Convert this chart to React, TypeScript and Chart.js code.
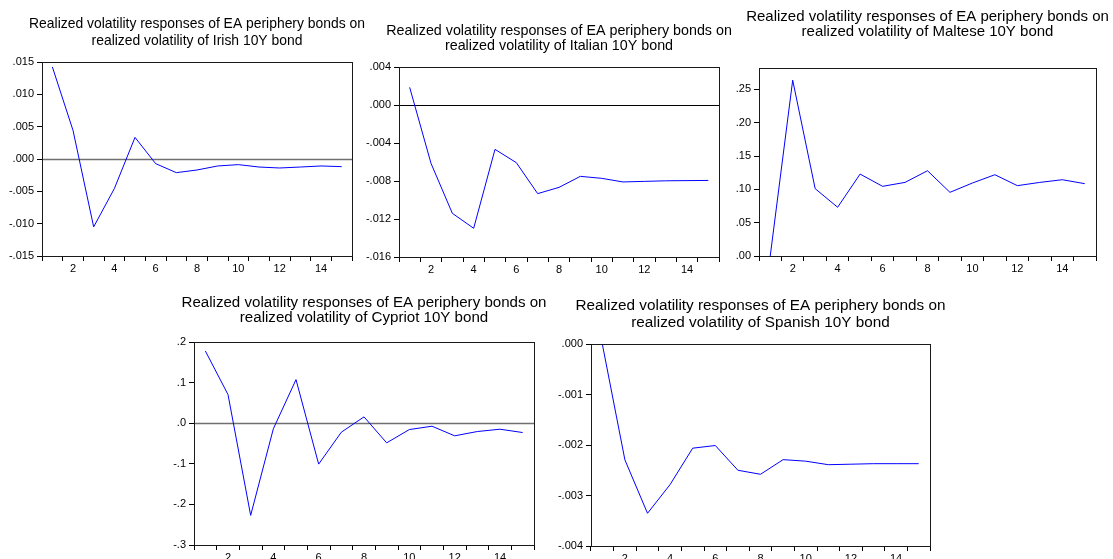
import { useEffect, useRef } from "react";
import { Chart, registerables } from "chart.js";

Chart.register(...registerables);

// Forecast horizon (periods after the shock)
const periods = ["1", "2", "3", "4", "5", "6", "7", "8", "9", "10", "11", "12", "13", "14", "15"];

// Impulse responses of realized volatility
const irishResponse = [0.01425, 0.00443, -0.0105, -0.00458, 0.00334, -0.00072, -0.00211, -0.0017, -0.00108, -0.00087, -0.00124, -0.00139, -0.00124, -0.00108, -0.00118];
const italianResponse = [0.00186, -0.00614, -0.0114, -0.01298, -0.00467, -0.00607, -0.00933, -0.00867, -0.00751, -0.00772, -0.0081, -0.00804, -0.00798, -0.00796, -0.00794];
const malteseResponse = [0.0, 0.2637, 0.101, 0.0731, 0.1229, 0.1045, 0.1104, 0.1279, 0.0955, 0.1095, 0.1219, 0.1055, 0.1104, 0.1144, 0.1085];
const cypriotResponse = [0.178, 0.0705, -0.227, -0.0139, 0.1074, -0.1008, -0.0221, 0.0156, -0.0484, -0.0156, -0.0074, -0.0311, -0.0205, -0.0148, -0.023];
const spanishResponse = [0.0, -0.002294, -0.003352, -0.002783, -0.002063, -0.00201, -0.0025, -0.00258, -0.00229, -0.00232, -0.00239, -0.00238, -0.00237, -0.00237, -0.00237];

// Value-axis ticks
const irishTicks = [-0.015, -0.01, -0.005, 0, 0.005, 0.01, 0.015];
const italianTicks = [-0.016, -0.012, -0.008, -0.004, 0, 0.004];
const malteseTicks = [0, 0.05, 0.1, 0.15, 0.2, 0.25];
const cypriotTicks = [-0.3, -0.2, -0.1, 0, 0.1, 0.2];
const spanishTicks = [-0.004, -0.003, -0.002, -0.001, 0];

const titleLead = "Realized volatility responses of EA periphery bonds on";
const irishTitle = [titleLead, "realized volatility of Irish 10Y bond"];
const italianTitle = [titleLead, "realized volatility of Italian 10Y bond"];
const malteseTitle = [titleLead, "realized volatility of Maltese 10Y bond"];
const cypriotTitle = [titleLead, "realized volatility of Cypriot 10Y bond"];
const spanishTitle = [titleLead, "realized volatility of Spanish 10Y bond"];

const FONT = "'Liberation Sans', Arial, Helvetica, sans-serif";
const AXIS_W = 42; // room for value labels left of the plot box
const AXIS_H = 24; // room for horizon labels under the plot box
const PAD_R = 26; // spare room on the right so the heading is not cut

type PanelSpec = {
  title: string[];
  values: number[];
  ticks: number[];
  min: number;
  max: number;
  decimals: number;
  plot: { left: number; top: number; right: number; bottom: number };
  titleY: number; // centre of the first title line
  titleSize: number;
  titleGap: number; // distance between title lines
  zeroColor: string;
  zeroWidth: number;
};

const panels: PanelSpec[] = [
  {
    title: irishTitle, values: irishResponse, ticks: irishTicks, min: -0.015, max: 0.015, decimals: 3,
    plot: { left: 42, top: 62, right: 352, bottom: 256 }, titleY: 24, titleSize: 13.9, titleGap: 17,
    zeroColor: "#707070", zeroWidth: 1.6,
  },
  {
    title: italianTitle, values: italianResponse, ticks: italianTicks, min: -0.016, max: 0.004, decimals: 3,
    plot: { left: 399, top: 67, right: 719, bottom: 257 }, titleY: 31.5, titleSize: 14.3, titleGap: 14.5,
    zeroColor: "#000000", zeroWidth: 1,
  },
  {
    title: malteseTitle, values: malteseResponse, ticks: malteseTicks, min: 0, max: 0.282, decimals: 2,
    plot: { left: 759, top: 68, right: 1096, bottom: 256 }, titleY: 16.5, titleSize: 15, titleGap: 15.6,
    zeroColor: "#707070", zeroWidth: 1.6,
  },
  {
    title: cypriotTitle, values: cypriotResponse, ticks: cypriotTicks, min: -0.3, max: 0.2, decimals: 1,
    plot: { left: 194, top: 342, right: 534, bottom: 545 }, titleY: 302.5, titleSize: 15.1, titleGap: 15.7,
    zeroColor: "#707070", zeroWidth: 1.6,
  },
  {
    title: spanishTitle, values: spanishResponse, ticks: spanishTicks, min: -0.004, max: 0, decimals: 3,
    plot: { left: 591, top: 344, right: 930, bottom: 546 }, titleY: 306, titleSize: 15.3, titleGap: 16.3,
    zeroColor: "#707070", zeroWidth: 1.6,
  },
];

// EViews-style value labels: ".015", "-.010", ".0"
function formatTick(v: number, decimals: number): string {
  const s = Math.abs(v).toFixed(decimals).replace(/^0/, "");
  return (v < -1e-12 ? "-" : "") + s;
}

// Two-line heading centred over the plot box (no width squeezing)
const headingPlugin = {
  id: "heading",
  afterDraw(chart: any, _args: any, opts: any) {
    const { ctx, chartArea: a } = chart;
    const cx = (a.left + a.right) / 2;
    ctx.save();
    ctx.fillStyle = "#000";
    ctx.font = `${opts.size}px ${FONT}`;
    ctx.textAlign = "center";
    ctx.textBaseline = "middle";
    (opts.lines as string[]).forEach((line, i) => {
      ctx.fillText(line, cx, opts.y + i * opts.gap);
    });
    ctx.restore();
  },
};

// Horizontal reference line at zero, drawn under the response line
const zeroLinePlugin = {
  id: "zeroLine",
  beforeDatasetsDraw(chart: any, _args: any, opts: any) {
    const { ctx, chartArea, scales } = chart;
    const y = scales.y;
    if (!(y.min < 0 && y.max > 0)) return;
    const py = Math.round(y.getPixelForValue(0)) + 0.5;
    ctx.save();
    ctx.strokeStyle = opts.color;
    ctx.lineWidth = opts.width;
    ctx.beginPath();
    ctx.moveTo(chartArea.left, py);
    ctx.lineTo(chartArea.right, py);
    ctx.stroke();
    ctx.restore();
  },
};

// Closed box around the plotting area
const framePlugin = {
  id: "frame",
  afterDraw(chart: any) {
    const { ctx, chartArea: a } = chart;
    ctx.save();
    ctx.strokeStyle = "#1a1a1a";
    ctx.lineWidth = 1;
    ctx.strokeRect(Math.round(a.left) + 0.5, Math.round(a.top) + 0.5, Math.round(a.right - a.left), Math.round(a.bottom - a.top));
    ctx.restore();
  },
};

function Panel({ spec }: { spec: PanelSpec }) {
  const ref = useRef<HTMLCanvasElement | null>(null);
  const left = spec.plot.left - AXIS_W;
  const top = Math.round(spec.titleY - spec.titleGap / 2 - 2);
  const width = spec.plot.right + PAD_R - left;
  const height = spec.plot.bottom + AXIS_H - top;

  useEffect(() => {
    if (!ref.current) return;
    const chart = new Chart(ref.current, {
      type: "line",
      data: {
        labels: periods,
        datasets: [
          {
            data: spec.values,
            borderColor: "#0000ff",
            borderWidth: 1,
            pointRadius: 0,
            tension: 0,
            fill: false,
          },
        ],
      },
      options: {
        animation: false,
        responsive: false,
        devicePixelRatio: 1,
        layout: { padding: { left: 0, right: PAD_R, top: spec.plot.top - top, bottom: 0 } },
        plugins: {
          legend: { display: false },
          tooltip: { enabled: false },
          title: { display: false },
          heading: { lines: spec.title, size: spec.titleSize, gap: spec.titleGap, y: spec.titleY - top },
          zeroLine: { color: spec.zeroColor, width: spec.zeroWidth },
        } as any,
        scales: {
          x: {
            type: "category",
            offset: true,
            grid: {
              offset: true,
              drawOnChartArea: false,
              drawTicks: true,
              tickLength: 5,
              color: "#000",
            },
            border: { display: true, color: "#000" },
            ticks: {
              autoSkip: false,
              maxRotation: 0,
              padding: 1,
              color: "#000",
              font: { family: FONT, size: 11 },
              callback: (_v: any, i: number) => ((i + 1) % 2 === 0 ? periods[i] : ""),
            },
            afterFit: (scale: any) => {
              scale.height = AXIS_H;
            },
          },
          y: {
            type: "linear",
            min: spec.min,
            max: spec.max,
            grid: {
              drawOnChartArea: false,
              drawTicks: true,
              tickLength: 5,
              color: "#000",
            },
            border: { display: true, color: "#000" },
            ticks: {
              padding: 3,
              color: "#000",
              font: { family: FONT, size: 11 },
              callback: (v: any) => formatTick(Number(v), spec.decimals),
            },
            afterBuildTicks: (scale: any) => {
              scale.ticks = spec.ticks.map((v) => ({ value: v }));
            },
            afterFit: (scale: any) => {
              scale.width = AXIS_W;
            },
          },
        },
      },
      plugins: [zeroLinePlugin, framePlugin, headingPlugin],
    });
    return () => chart.destroy();
  }, [spec]);

  return (
    <canvas
      ref={ref}
      width={width}
      height={height}
      style={{ position: "absolute", left, top, width, height }}
    />
  );
}

export default function App() {
  return (
    <div
      style={{
        position: "fixed",
        left: 0,
        top: 0,
        width: 1113,
        height: 559,
        overflow: "hidden",
        background: "#ffffff",
      }}
    >
      {panels.map((p, i) => (
        <Panel key={i} spec={p} />
      ))}
    </div>
  );
}
